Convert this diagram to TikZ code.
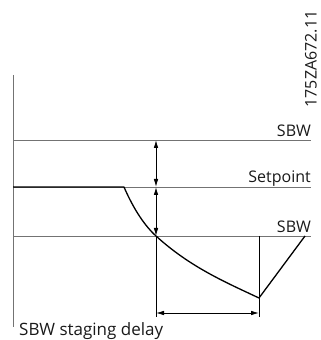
\documentclass[tikz,border=0pt]{standalone}
\usepackage{fontspec}
\setmainfont{Open Sans}
\usetikzlibrary{arrows.meta}

\begin{document}
\begin{tikzpicture}[x=1pt, y=1pt,
  level/.style={black!55, line width=0.8pt},
  signal/.style={black, line width=1.3pt, line join=round},
  dimline/.style={black, line width=0.8pt},
  dimarrow/.style={dimline, {Latex[length=8pt,width=4.5pt]}-{Latex[length=8pt,width=4.5pt]}},
  lbl/.style={font=\fontsize{16}{19}\selectfont, text=black!90, inner sep=0pt}]
  \useasboundingbox (0,0) rectangle (321,340);

  % axis and levels
  \coordinate (axtop) at (13,265);
  \coordinate (axbot) at (13,13);
  \draw[level] (axtop) -- (axbot);
  \foreach \name/\y in {sbwhi/200, setp/153, sbwlo/104} {
    \coordinate (\name-l) at (13,\y);
    \coordinate (\name-r) at (311,\y);
    \draw[level] (\name-l) -- (\name-r);
  }
  \node[lbl, anchor=base east] (sbwhitxt) at ([yshift=3pt]sbwhi-r) {SBW};
  \node[lbl, anchor=base east] (setptxt) at ([yshift=4pt]setp-r) {Setpoint};
  \node[lbl, anchor=base east] (sbwlotxt) at ([yshift=3pt]sbwlo-r) {SBW};

  % pressure curve
  \coordinate (drop) at (124,153);
  \coordinate (cross) at (156,104);
  \coordinate (low) at (259,42);
  \coordinate (back) at (305,104);
  \draw[signal] (setp-l) -- (drop)
    .. controls (134,130) and (145,114) .. (cross)
    .. controls (190,73) and (225,58) .. (low) -- (back);

  % dimensions
  \coordinate (hi) at (156,200);
  \coordinate (mid) at (156,153);
  \coordinate (crossbot) at (156,23);
  \coordinate (lowtop) at (259,104);
  \coordinate (lowbot) at (259,23);
  \draw[dimline] (cross) -- (crossbot);
  \draw[dimline] (lowtop) -- (lowbot);
  \draw[dimarrow] (hi) -- (mid);
  \draw[dimarrow] (mid) -- (cross);
  \draw[dimarrow] ([yshift=4pt]crossbot) -- ([yshift=4pt]lowbot);

  \node[lbl, font=\fontsize{17}{20}\selectfont, anchor=base west] (delaytxt) at (19,5) {SBW staging delay};
  \node[lbl, rotate=90] (figno) at (311,281) {175ZA672.11};
\end{tikzpicture}
\end{document}
